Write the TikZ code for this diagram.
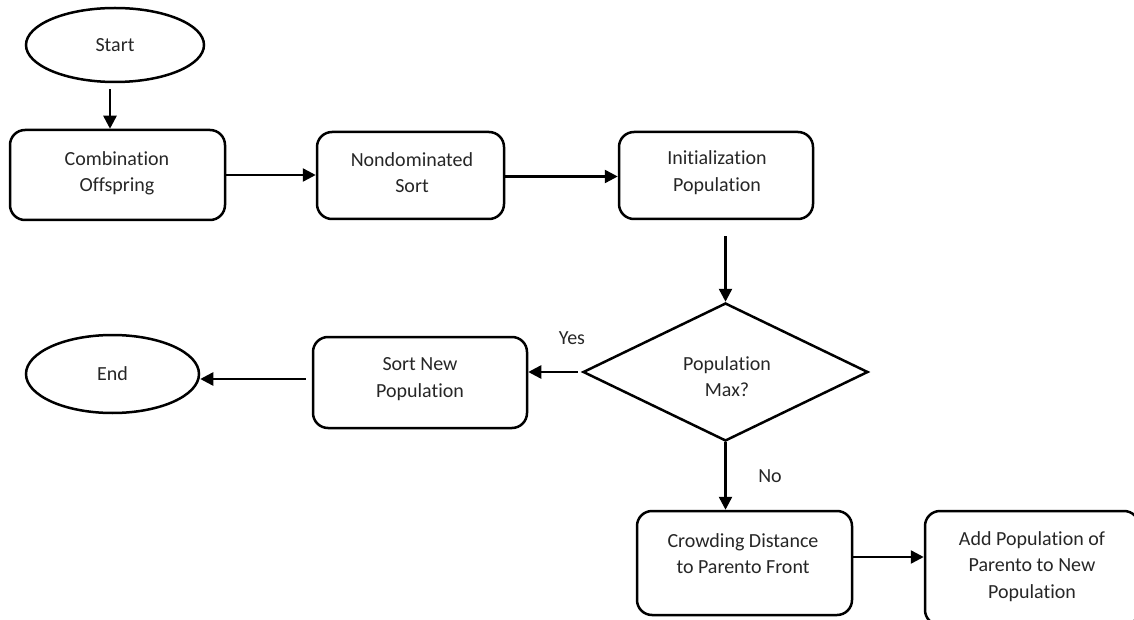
\documentclass[tikz,border=0pt]{standalone}
\usepackage{fontspec}
\setmainfont{Carlito}[Ligatures={NoCommon,NoRare,NoContextual}]
\usetikzlibrary{shapes.geometric,arrows.meta}
\begin{document}
\begin{tikzpicture}[x=1pt,y=-1pt,
  every node/.style={font=\fontsize{20}{26.5}\selectfont, text=black!85},
  boxnode/.style={draw, line width=2.5pt, rounded corners=15pt, inner sep=0pt},
  ellnode/.style={draw, line width=2.5pt, ellipse, inner sep=0pt},
  dianode/.style={draw, line width=2.5pt, diamond, inner sep=0pt},
  txt/.style={align=center, inner sep=0pt},
  arr/.style={line width=2.5pt, -{Triangle[length=13pt,width=13pt]}}
]
\useasboundingbox (0,0) rectangle (1134,620);
% shapes
\node[ellnode, minimum width=178pt, minimum height=74pt] (startE) at (115,45) {Start};
\node[boxnode, minimum width=215pt, minimum height=90pt] (comb) at (117.5,175) {};
\node[boxnode, minimum width=187pt, minimum height=87pt] (nondom) at (410.5,175.5) {};
\node[boxnode, minimum width=194pt, minimum height=87pt] (init) at (716,175.5) {};
\node[dianode, minimum width=285pt, minimum height=138pt] (dia) at (725.5,372) {};
\node[boxnode, minimum width=214pt, minimum height=91pt] (sort) at (420,382.5) {};
\node[ellnode, minimum width=173pt, minimum height=78pt] (endE) at (112.5,374) {End};
\node[boxnode, minimum width=215pt, minimum height=104pt] (crowd) at (744.5,563) {};
\node[boxnode, minimum width=214pt, minimum height=114pt] (add) at (1032,568) {};
% texts
\node[txt] (combT) at (117,173.5) {Combination\\Offspring};
\node[txt] (nondomT) at (412,172.5) {Nondominated\\Sort};
\node[txt] (initT) at (717,172.5) {Initialization\\Population};
\node[txt] (diaT) at (727,376.5) {Population\\Max?};
\node[txt] (sortT) at (420,379) {Sort New\\Population};
\node[txt] (crowdT) at (743,553.5) {Crowding Distance\\to Parento Front};
\node[txt] (addT) at (1032,566.5) {Add Population of\\Parento to New\\Population};
\node[txt] (yesL) at (572,338) {Yes};
\node[txt] (noL) at (770,476) {No};
% connectors
\coordinate (combOut) at (comb.east);
\coordinate (nondomOut) at ([yshift=-1pt]nondom.east);
\coordinate (sortOut) at ([xshift=-6pt,yshift=3.5pt]sort.west);
\coordinate (crowdOut) at ([yshift=6pt]crowd.east);
\draw[arr] ([xshift=-5pt,yshift=-6pt]startE.south) -- ([xshift=-5pt]startE.south |- comb.north);
\draw[arr] (combOut) -- (combOut -| nondom.west);
\draw[arr] (nondomOut) -- (nondomOut -| init.west);
\draw[arr] ([yshift=-16pt]init.south -| dia.north) -- (dia.north);
\draw[arr] ([xshift=-4pt]dia.west) -- (dia.west -| sort.east);
\draw[arr] (sortOut) -- (sortOut -| endE.east);
\draw[arr] (dia.south) -- (dia.south |- crowd.north);
\draw[arr] (crowdOut) -- (crowdOut -| add.west);
\end{tikzpicture}
\end{document}
